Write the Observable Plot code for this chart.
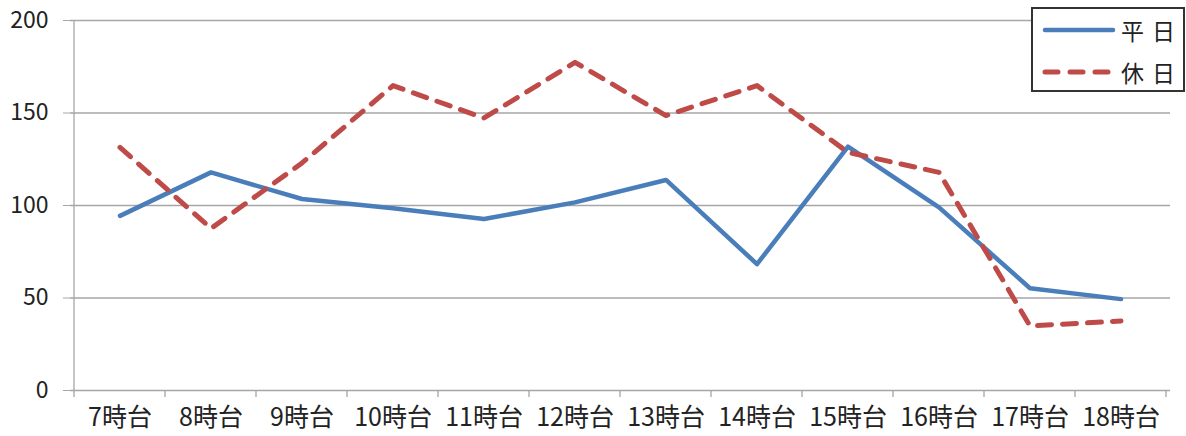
<!DOCTYPE html>
<html>
<head>
<meta charset="utf-8">
<script src="https://cdn.jsdelivr.net/npm/d3@7"></script>
<script src="https://cdn.jsdelivr.net/npm/@observablehq/plot@0.6"></script>
<style>
  html, body { margin: 0; padding: 0; background: #fff; }
  #wrap { position: relative; width: 1186px; height: 436px; font-family: "Noto Sans CJK JP", sans-serif; }
  #legend { position: absolute; left: 1031px; top: 7px; width: 150px; height: 81px; border: 2px solid #333; background: #fff; box-sizing: content-box; }
  #legend .row { position: absolute; left: 0; width: 150px; height: 30px; display: flex; align-items: center; white-space: nowrap; }
  #legend .txt { font-size: 23px; color: #222; letter-spacing: 8px; margin-left: 4px; line-height: 1; white-space: nowrap; }
</style>
</head>
<body>
<div id="wrap"></div>
<script>
const categories = ["7時台","8時台","9時台","10時台","11時台","12時台","13時台","14時台","15時台","16時台","17時台","18時台"];
const weekday = [94.4, 117.9, 103.5, 98.5, 92.7, 101.7, 113.8, 68.3, 131.8, 99.0, 55.3, 49.4];
const holiday = [131.4, 87.6, 123.0, 164.8, 147.3, 177.4, 148.6, 164.8, 128.7, 117.9, 34.9, 37.6];
const yTicks = [0, 50, 100, 150, 200];
const seriesNames = ["平日", "休日"];
const seriesColors = ["#4A7EBB", "#BE4B48"];

const rowsW = categories.map((c, i) => ({cat: c, v: weekday[i]}));
const rowsH = categories.map((c, i) => ({cat: c, v: holiday[i]}));

const chart = Plot.plot({
  width: 1186,
  height: 436,
  marginLeft: 70,
  marginRight: 16,
  marginTop: 20,
  marginBottom: 46,
  style: {fontFamily: "'Noto Sans CJK JP', sans-serif", fontSize: "23px", color: "#222", background: "white", overflow: "visible"},
  x: {type: "band", domain: categories, padding: 0, label: null},
  y: {domain: [0, 200], label: null},
  marks: [
    Plot.ruleY(yTicks, {stroke: "#a6a6a6", strokeWidth: 1.3}),
    Plot.axisY({ticks: yTicks, tickSize: 7, tickPadding: 15, stroke: "#a6a6a6", fill: "#222", strokeOpacity: 1}),
    Plot.axisX({tickSize: 0, tickPadding: 18, fill: "#222", fontSize: 25}),
    Plot.line(rowsW, {x: "cat", y: "v", stroke: seriesColors[0], strokeWidth: 4.5, strokeLinejoin: "round", strokeLinecap: "round"}),
    Plot.line(rowsH, {x: "cat", y: "v", stroke: seriesColors[1], strokeWidth: 5, strokeDasharray: "14,11", strokeLinejoin: "round", strokeLinecap: "round"})
  ]
});

// band-boundary ticks and left axis line, placed through the chart's own scales
const sx = chart.scale("x");
const sy = chart.scale("y");
const svg = d3.select(chart);
const g = svg.append("g").attr("stroke", "#a6a6a6").attr("stroke-width", 1.3);
const bounds = categories.map(c => sx.apply(c)).concat([sx.apply(categories[categories.length - 1]) + sx.bandwidth]);
const y0 = sy.apply(0), yTop = sy.apply(200);
g.selectAll("line.b").data(bounds).join("line")
  .attr("x1", d => d).attr("x2", d => d).attr("y1", y0).attr("y2", y0 + 7);
g.append("line").attr("x1", bounds[0]).attr("x2", bounds[0]).attr("y1", yTop).attr("y2", y0);

document.getElementById("wrap").appendChild(chart);

// legend
const legend = document.createElement("div");
legend.id = "legend";
seriesNames.forEach((name, i) => {
  const row = document.createElement("div");
  row.className = "row";
  row.style.top = (i === 0 ? 6 : 48) + "px";
  const s = d3.create("svg").attr("width", 84).attr("height", 30).style("flex", "none");
  s.append("line").attr("x1", 12).attr("x2", 80).attr("y1", 15).attr("y2", 15)
    .attr("stroke", seriesColors[i]).attr("stroke-width", i === 0 ? 4.5 : 5)
    .attr("stroke-linecap", "round")
    .attr("stroke-dasharray", i === 0 ? null : "13,12");
  row.appendChild(s.node());
  const t = document.createElement("span");
  t.className = "txt";
  t.textContent = name;
  row.appendChild(t);
  legend.appendChild(row);
});
document.getElementById("wrap").appendChild(legend);
</script>
</body>
</html>
